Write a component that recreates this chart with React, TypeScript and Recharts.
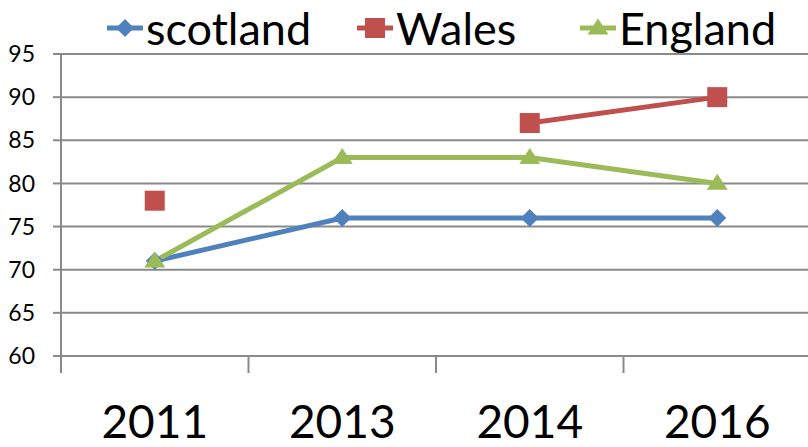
import { LineChart, Line, XAxis, YAxis, CartesianGrid } from "recharts";

const years = ["2011", "2013", "2014", "2016"];
const scotland = [71, 76, 76, 76];
const wales = [78, null, 87, 90];
const england = [71, 83, 83, 80];
const yTicks = [60, 65, 70, 75, 80, 85, 90, 95];

const BLUE = "#4F81BD";
const RED = "#C0504D";
const GREEN = "#9BBB59";
const GRID = "#8a8a8a";
const FONT = "Lato, 'Open Sans', sans-serif";

const HALF_BAND = 93.75;

const data = years.map((year, i) => ({
  year,
  scotland: scotland[i],
  wales: wales[i],
  england: england[i],
}));

function Diamond({ cx, cy, fill, r = 9 }: any) {
  if (cx == null || cy == null) return null;
  return <polygon points={`${cx},${cy - r} ${cx + r},${cy} ${cx},${cy + r} ${cx - r},${cy}`} fill={fill} />;
}

function Square({ cx, cy, fill, s = 20 }: any) {
  if (cx == null || cy == null) return null;
  return <rect x={cx - s / 2} y={cy - s / 2} width={s} height={s} fill={fill} />;
}

function Triangle({ cx, cy, fill, w = 21, h = 16 }: any) {
  if (cx == null || cy == null) return null;
  return <polygon points={`${cx},${cy - h * 0.6} ${cx + w / 2},${cy + h * 0.4} ${cx - w / 2},${cy + h * 0.4}`} fill={fill} />;
}

function YearTick({ x, y, payload, index }: any) {
  return (
    <g>
      <line x1={x - HALF_BAND} y1={y} x2={x - HALF_BAND} y2={y + 17} stroke={GRID} strokeWidth={2} />
      {index === years.length - 1 && (
        <line x1={x + HALF_BAND} y1={y} x2={x + HALF_BAND} y2={y + 17} stroke={GRID} strokeWidth={2} />
      )}
      <text x={x} y={y + 82} textAnchor="middle" fontSize={46} fontFamily={FONT} fill="#000">
        {payload.value}
      </text>
    </g>
  );
}

function LegendItem({ label, color, marker, width }: any) {
  return (
    <div style={{ display: "flex", alignItems: "center" }}>
      <svg width={38} height={24} style={{ marginRight: 2 }}>
        <line x1={1} y1={12} x2={37} y2={12} stroke={color} strokeWidth={5} />
        {marker === "diamond" && <Diamond cx={19} cy={12} fill={color} r={9} />}
        {marker === "square" && <Square cx={19} cy={12} fill={color} s={20} />}
        {marker === "triangle" && <Triangle cx={19} cy={12} fill={color} />}
      </svg>
      <span style={{ width, fontSize: 45, fontFamily: FONT, color: "#000", lineHeight: "48px" }}>{label}</span>
    </div>
  );
}

export default function App() {
  return (
    <div style={{ position: "absolute", left: 0, top: 0, width: 808, height: 447, overflow: "hidden", background: "#fff" }}>
      <div style={{ position: "absolute", left: 106, top: 4, display: "flex" }}>
        <LegendItem label="scotland" color={BLUE} marker="diamond" width={210} />
        <LegendItem label="Wales" color={RED} marker="square" width={183} />
        <LegendItem label="England" color={GREEN} marker="triangle" width={180} />
      </div>
      <LineChart width={820} height={447} data={data} margin={{ top: 54, right: 9, bottom: 0, left: 0 }}>
        <CartesianGrid vertical={false} stroke={GRID} strokeWidth={2} />
        <XAxis
          dataKey="year"
          padding={{ left: HALF_BAND, right: HALF_BAND }}
          height={91}
          tickSize={0}
          tickMargin={0}
          tickLine={false}
          axisLine={{ stroke: GRID, strokeWidth: 2 }}
          tick={<YearTick />}
          interval={0}
        />
        <YAxis
          domain={[60, 95]}
          ticks={yTicks}
          width={61}
          tickSize={8}
          tickMargin={18}
          tickLine={{ stroke: GRID, strokeWidth: 2 }}
          axisLine={{ stroke: GRID, strokeWidth: 2 }}
          tick={{ fontSize: 23, fontFamily: FONT, fill: "#000" }}
          allowDataOverflow
        />
        <Line
          dataKey="scotland"
          stroke={BLUE}
          strokeWidth={5}
          dot={(p: any) => <Diamond key={`s${p.index}`} cx={p.cx} cy={p.cy} fill={BLUE} />}
          activeDot={false}
          isAnimationActive={false}
        />
        <Line
          dataKey="wales"
          stroke={RED}
          strokeWidth={5}
          dot={(p: any) => <Square key={`w${p.index}`} cx={p.cx} cy={p.value == null ? null : p.cy} fill={RED} />}
          activeDot={false}
          isAnimationActive={false}
        />
        <Line
          dataKey="england"
          stroke={GREEN}
          strokeWidth={5}
          dot={(p: any) => <Triangle key={`e${p.index}`} cx={p.cx} cy={p.cy} fill={GREEN} />}
          activeDot={false}
          isAnimationActive={false}
        />
      </LineChart>
    </div>
  );
}
